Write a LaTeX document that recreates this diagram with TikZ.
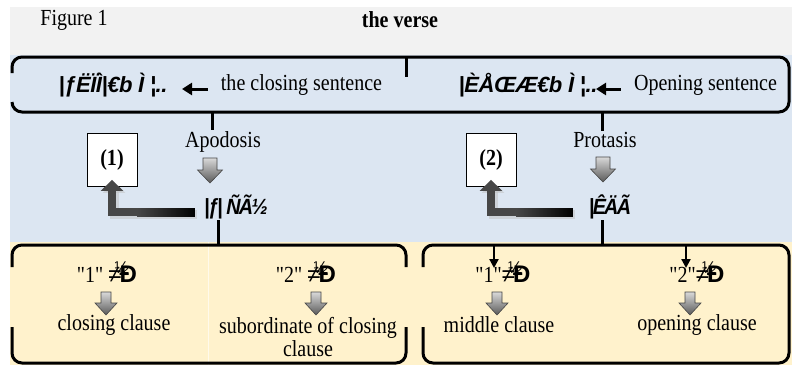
\documentclass[tikz,border=0pt]{standalone}
\usepackage{fontspec}
\setmainfont{Liberation Serif}[FakeStretch=0.87]
\newfontfamily\dqfont{Liberation Serif}[FakeStretch=0.87, Ligatures=TeXOff]
\newfontfamily\garb{Liberation Sans}[LetterSpace=-8,FakeStretch=0.9]
\newfontfamily\garbwide{Liberation Sans}[LetterSpace=-2]
\newfontfamily\garbsym{Liberation Sans}
\usetikzlibrary{arrows.meta,calc}
\definecolor{bandgray}{HTML}{F2F2F2}
\definecolor{bandblue}{HTML}{DCE6F2}
\definecolor{bandyellow}{HTML}{FFF2CC}
\tikzset{
  tx/.style={inner sep=1pt, font=\fontsize{23}{23}\selectfont},
  gtx/.style={inner sep=1pt, font=\fontsize{22}{22}\selectfont\garb\itshape\bfseries},
  gtxw/.style={inner sep=1pt, font=\fontsize{22}{22}\selectfont\garbwide\itshape\bfseries},
  frame/.style={line width=3pt, black, rounded corners=10pt},
  stub/.style={line width=3pt, black},
  headarrow/.style={line width=3pt, -{Triangle[length=10pt,width=12pt]}},
  thinarrow/.style={line width=2.2pt, -{Triangle[length=9pt,width=9pt]}},
  numbox/.style={draw=black, line width=0.8pt, fill=white, minimum width=50pt, minimum height=53pt, inner sep=0pt, font=\fontsize{23}{23}\selectfont\bfseries},
  larrow/.style={line width=8pt, black!72, -{Triangle[length=11pt,width=22pt]},
    preaction={draw=black!25, line width=9pt, opacity=0.5, transform canvas={shift={(2pt,-2pt)}}}},
  bigdown/.pic={\shade[top color=gray!30, bottom color=gray!70!black, draw=gray!55!black, line width=0.6pt]
     (-7,0) -- (7,0) -- (7,12) -- (12.5,12) -- (0,25) -- (-12.5,12) -- (-7,12) -- cycle;},
  smalldown/.pic={\shade[top color=gray!30, bottom color=gray!70!black, draw=gray!55!black, line width=0.6pt]
     (-5,0) -- (5,0) -- (5,11) -- (11,11) -- (0,23) -- (-11,11) -- (-5,11) -- cycle;},
}
\newcommand{\dq}{{\dqfont"}}
\newcommand{\gsym}{{\fontsize{24}{24}\garbsym ≠\kern-7pt\raisebox{9pt}{\fontsize{17}{17}\selectfont ½}\kern-9pt\bfseries Ð}}
\begin{document}
\begin{tikzpicture}[x=1pt,y=-1pt]
\useasboundingbox (0,0) rectangle (792,365);
% bands
\fill[white] (0,0) rectangle (792,365);
\fill[bandgray] (10,7) rectangle (792,55);
\fill[bandblue] (10,55) rectangle (792,242);
\fill[bandyellow] (10,242) rectangle (792,365);
\draw[white!60!bandyellow, line width=0.8pt] (208,242) -- (208,365);

% title row
\node[tx] (fig) at (74,20) {Figure 1};
\node[tx, font=\fontsize{23}{23}\selectfont\bfseries] (verse) at (400,20) {the verse};

% top box
\draw[frame] (12,73) -- (12,57) -- (789,57) -- (789,112) -- (12,112) -- (12,102);
\coordinate (tick) at (406,57);
\draw[stub] (tick) -- ++(0,20);

\node[gtxw] (csar) at (113,85) {|ƒËÏÌ|€b Ì ¦..};
\node[tx] (cs) at (301.5,85) {the closing sentence};
\draw[headarrow, shorten <=12pt] ([yshift=-4pt]cs.west) -- ([yshift=-4pt]cs.west -| 182,0);

\node[gtxw] (osar) at (528,85) {|ÈÅŒÆ€b Ì ¦..};
\node[tx] (os) at (705.5,85) {Opening sentence};
\draw[headarrow, shorten <=12pt] ([yshift=-4pt]os.west) -- ([yshift=-4pt]os.west -| 596,0);

% apodosis branch
\coordinate (apotop) at (212,112);
\node[tx] (apo) at (223,142) {Apodosis};
\draw[stub] (apotop) -- (apotop |- apo.north);
\pic at (210,158) {bigdown};
\node[gtx] (g1) at (236,207) {|ƒ| ÑÃ½};
\coordinate (lbtop) at (218,245);
\draw[stub] (lbtop |- g1.south) -- (lbtop);
\node[numbox] (n1) at (112,160) {(1)};
\coordinate (h1) at ([yshift=-5pt]g1.west);
\draw[larrow, shorten <=8pt, shorten >=-7pt] (h1) -| (n1.south);
\shade[left color=black!72, right color=black] ($(h1 -| n1.south)+(25,-4)$) rectangle ($(h1)+(-8,4)$);

% protasis branch
\coordinate (protop) at (602,112);
\node[tx] (pro) at (605,140) {Protasis};
\draw[stub] (protop) -- (protop |- pro.north);
\pic at (603,157) {bigdown};
\node[gtx] (g2) at (610,207) {|ÊÄÃ};
\coordinate (rbtop) at (602,245);
\draw[stub] (rbtop |- g2.south) -- (rbtop);
\node[numbox] (n2) at (491,160) {(2)};
\coordinate (h2) at ([yshift=-5pt]g2.west);
\draw[larrow, shorten <=15pt, shorten >=-7pt] (h2) -| (n2.south);
\shade[left color=black!72, right color=black] ($(h2 -| n2.south)+(25,-4)$) rectangle ($(h2)+(-15,4)$);

% bottom boxes
\draw[frame] (12,267) -- (12,245) -- (406,245) -- (406,267);
\draw[frame] (12,327) -- (12,363) -- (406,363) -- (406,327);
\draw[frame] (423,267) -- (423,245) -- (789,245) -- (789,363) -- (423,363) -- (423,327);

% left bottom cells
\node[tx] (l1) at (107,272) {\dq1\dq{} \gsym};
\pic at (106,292) {smalldown};
\node[tx] (l1t) at (114,325) {closing clause};
\node[tx] (l2) at (306,272) {\dq2\dq{} \gsym};
\pic at (316,292) {smalldown};
\node[tx, align=center, font=\fontsize{23}{23}\selectfont] (l2t) at (308,337) {subordinate of closing\\clause};

% right bottom cells
\node[tx] (r1) at (503,272) {\dq1\dq\gsym};
\coordinate (r1top) at (494,246);
\draw[thinarrow] (r1top) -- ++(0,22);
\pic at (497,292) {smalldown};
\node[tx] (r1t) at (499,325) {middle clause};
\node[tx] (r2) at (697,272) {\dq2\dq\gsym};
\coordinate (r2top) at (686,246);
\draw[thinarrow] (r2top) -- ++(0,22);
\pic at (690,292) {smalldown};
\node[tx] (r2t) at (697,325) {opening clause};
\end{tikzpicture}
\end{document}
